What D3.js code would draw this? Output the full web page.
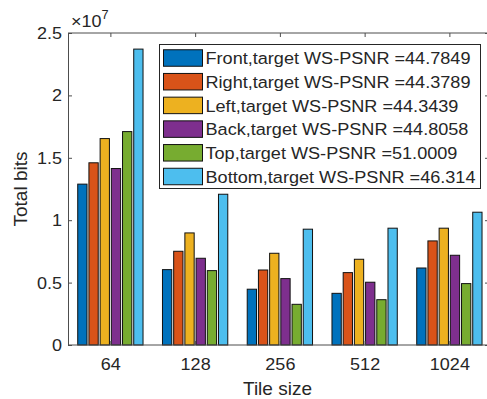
<!DOCTYPE html>
<html lang="en">
<head>
<meta charset="utf-8">
<title>Total bits per tile size</title>
<style>
  body { margin: 0; background: #fff; }
  svg text { font-family: "Liberation Sans", Arial, sans-serif; fill: #262626; }
</style>
</head>
<body>
<svg id="chart" width="487" height="399"></svg>
<script src="https://d3js.org/d3.v7.min.js"></script>
<script>
// data (total bits)
var tiles = ["64", "128", "256", "512", "1024"];
var faces = ["Front", "Right", "Left", "Back", "Top", "Bottom"];
var psnr = ["44.7849", "44.3789", "44.3439", "44.8058", "51.0009", "46.314"];
var frontBits  = [12890000, 6040000, 4470000, 4140000, 6170000];
var rightBits  = [14600000, 7510000, 6010000, 5800000, 8340000];
var leftBits   = [16540000, 8980000, 7350000, 6870000, 9360000];
var backBits   = [14140000, 6950000, 5320000, 5030000, 7190000];
var topBits    = [17100000, 5960000, 3260000, 3630000, 4920000];
var bottomBits = [23710000, 12080000, 9280000, 9360000, 10640000];
var yTicks = [0, 0.5e7, 1e7, 1.5e7, 2e7, 2.5e7];

var series = [frontBits, rightBits, leftBits, backBits, topBits, bottomBits];
var colours = ["#0072BD", "#D95319", "#EDB120", "#7E2F8E", "#77AC30", "#4DBEEE"];

// plot box (right side of the box sits just past the picture edge)
var LEFT = 68, RIGHT = 489, TOP = 33, BOTTOM = 345;
var STEP = 84.75;   // distance between groups
var TICK = 4;
var AXIS_COLOUR = "#4d4d4d";
var WIDEN = 1.06;   // the figure's small text is a bit wider than plain Arial

var svg = d3.select("#chart");

var x = d3.scaleBand().domain(tiles).range([LEFT, LEFT + STEP * tiles.length]);
var inner = d3.scaleBand().domain(d3.range(faces.length))
    .range([-32.65, 32.65]).paddingInner(0.17);
var y = d3.scaleLinear().domain([0, 2.5e7]).range([BOTTOM, TOP]);

//bars
var groups = svg.append("g").selectAll("g")
  .data(tiles)
  .join("g")
    .attr("transform", function (t) { return "translate(" + (x(t) + x.bandwidth() / 2) + ",0)"; });

groups.selectAll("rect")
  .data(function (t, ti) { return series.map(function (s, si) { return { s: si, v: s[ti] }; }); })
  .join("rect")
    .attr("x", function (d) { return inner(d.s); })
    .attr("width", inner.bandwidth())
    .attr("y", function (d) { return y(d.v); })
    .attr("height", function (d) { return BOTTOM - y(d.v); })
    .attr("fill", function (d) { return colours[d.s]; })
    .attr("stroke", "#111")
    .attr("stroke-width", 1);

//axes, ticks pointing inward like matlab
function styleAxis(g) {
  g.select(".domain").attr("stroke", AXIS_COLOUR);
  g.selectAll(".tick line").attr("stroke", AXIS_COLOUR);
  g.selectAll("text").attr("font-size", 17).attr("fill", "#262626")
    .attr("transform", "scale(" + WIDEN + ",1)")
    .style("font-family", "'Liberation Sans', Arial, sans-serif");
}

var xCentre = d3.scalePoint().domain(tiles)
    .range([x(tiles[0]) + x.bandwidth() / 2, x(tiles[tiles.length - 1]) + x.bandwidth() / 2]);

svg.append("g")
    .attr("transform", "translate(0," + BOTTOM + ")")
    .call(d3.axisBottom(xCentre).tickSize(-TICK).tickSizeOuter(0).tickPadding(13))
    .call(styleAxis)
    .select(".domain").attr("d", "M" + LEFT + ",0H" + RIGHT);

svg.append("g")
    .attr("transform", "translate(0," + TOP + ")")
    .call(d3.axisTop(xCentre).tickSize(-TICK).tickSizeOuter(0).tickFormat(""))
    .call(styleAxis)
    .select(".domain").attr("d", "M" + LEFT + ",0H" + RIGHT);

svg.append("g")
    .attr("transform", "translate(" + LEFT + ",0)")
    .call(d3.axisLeft(y).tickValues(yTicks).tickSize(-TICK).tickSizeOuter(0).tickPadding(5.7)
      .tickFormat(function (d) { return d / 1e7; }))
    .call(styleAxis);

svg.append("g")
    .attr("transform", "translate(" + RIGHT + ",0)")
    .call(d3.axisRight(y).tickValues(yTicks).tickSize(-TICK).tickSizeOuter(0).tickFormat(""))
    .call(styleAxis);

//exponent
var expo = svg.append("text")
    .attr("transform", "translate(71,27) scale(" + WIDEN + ",1)").attr("font-size", 17);
expo.append("tspan").text("\u00d710");
expo.append("tspan").attr("font-size", 12).attr("dy", -8).text("7");

//axis labels
svg.append("text")
    .attr("x", (LEFT + 489) / 2 - 1).attr("y", 395)
    .attr("text-anchor", "middle").attr("font-size", 19)
    .text("Tile size");

svg.append("text")
    .attr("transform", "translate(27," + (TOP + BOTTOM) / 2 + ") rotate(-90)")
    .attr("text-anchor", "middle").attr("font-size", 19)
    .text("Total bits");

//legend
var legend = svg.append("g");
legend.append("rect")
    .attr("x", 159.5).attr("y", 44.5).attr("width", 321).attr("height", 144)
    .attr("fill", "#fff").attr("stroke", "#262626").attr("stroke-width", 1);

var rows = legend.selectAll("g.row")
  .data(faces)
  .join("g")
    .attr("class", "row")
    .attr("transform", function (f, i) { return "translate(0," + (58 + i * 23.7) + ")"; });

rows.append("rect")
    .attr("x", 163.5).attr("y", -8.25).attr("width", 39).attr("height", 16.5)
    .attr("fill", function (f, i) { return colours[i]; })
    .attr("stroke", "#111").attr("stroke-width", 1);

rows.append("text")
    .attr("transform", "translate(205.5,0) scale(1.065,1)")
    .attr("dy", "0.36em").attr("font-size", 17)
    .text(function (f, i) { return f + ",target WS-PSNR =" + psnr[i]; });
</script>
</body>
</html>
